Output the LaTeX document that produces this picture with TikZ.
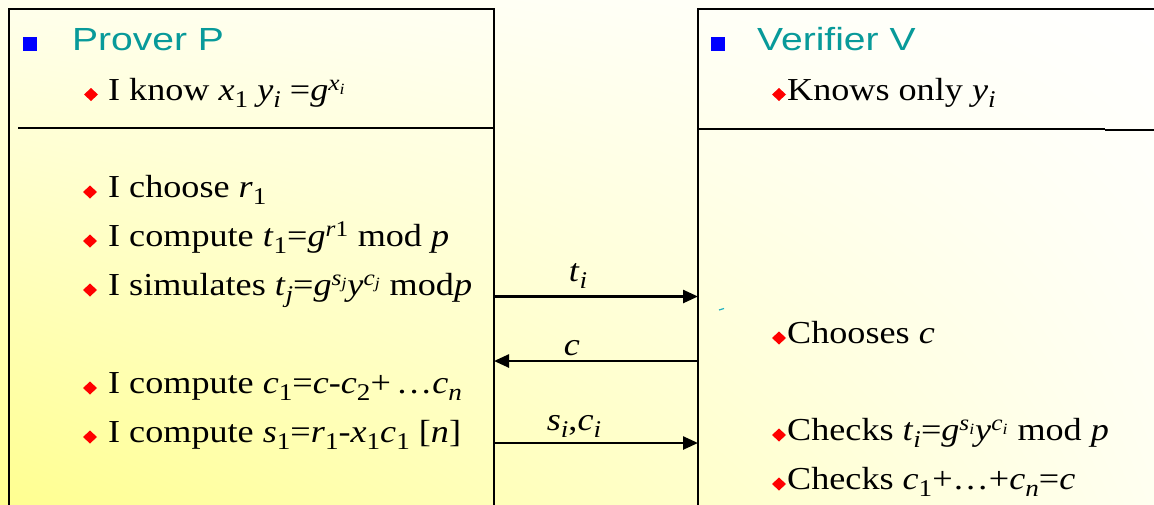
\documentclass[tikz,border=0pt]{standalone}
\usepackage{fontspec}
\setmainfont[FakeStretch=1.13]{Liberation Serif}
\newfontfamily\arialf[FakeStretch=1.22]{Liberation Sans}
\usetikzlibrary{arrows.meta,shadings}
\definecolor{headteal}{HTML}{089A9A}
\definecolor{bulred}{HTML}{FF0000}
\definecolor{bulblue}{HTML}{0000FF}
\definecolor{bgLL}{HTML}{FFFF90}
\definecolor{bgUL}{HTML}{FFFFEC}
\definecolor{bgLR}{HTML}{FFFFF0}
\definecolor{bgUR}{HTML}{FFFFFF}
\definecolor{markteal}{HTML}{20B0C0}
\newcommand\vv[1]{\textit{#1}}
\newcommand\sbs[1]{\raisebox{-7pt}{\fontsize{24}{24}\selectfont #1}}
\newcommand\sps[1]{\textsuperscript{#1}}
\begin{document}
\begin{tikzpicture}[x=1pt,y=-1pt,
  txt/.style={anchor=base west, inner sep=0pt, font=\fontsize{32}{38}\selectfont},
  head/.style={anchor=base west, inner sep=0pt, font=\arialf\fontsize{32}{38}\selectfont, text=headteal},
  lbl/.style={anchor=base, inner sep=0pt, font=\fontsize{32}{38}\selectfont},
  boxline/.style={line width=2.7pt, draw=black},
  msg/.style={line width=2.5pt, -{Triangle[length=15pt,width=13pt]}},
  bul/.pic={\fill[bulred] (-7,0) -- (0,-6.5) -- (7,0) -- (0,6.5) -- cycle;},
  sq/.pic={\fill[bulblue] (-7,-7) rectangle (7,7);}
]
\useasboundingbox (0,0) rectangle (1154,504);
\clip (0,0) rectangle (1154,504);
\shade[upper left=bgUL, upper right=bgUR, lower left=bgLL, lower right=bgLR] (0,0) rectangle (1154,504);

% boxes
\draw[boxline] (9,520) -- (9,9) -- (494,9) -- (494,520);
\draw[boxline] (18,128) -- (494,128);
\draw[boxline] (698,520) -- (698,9) -- (1170,9);
\draw[boxline] (698,129) -- (1105,129);
\draw[boxline] (1105,130) -- (1170,130);

% Prover
\pic at (30,44) {sq};
\node[head] (ph) at (72,50) {Prover P};
\pic at (91,94.5) {bul};
\node[txt] (p0) at (108,100) {I know \vv{x}\sbs{1} \vv{y}\sbs{\vv{i}} =\vv{g}\sps{\vv{x}\textsubscript{\vv{i}}}};

\pic at (90,192) {bul};
\node[txt] (p1) at (108,197) {I choose \vv{r}\sbs{1}};
\pic at (90,241) {bul};
\node[txt] (p2) at (108,246) {I compute \vv{t}\sbs{1}=\vv{g}\sps{\vv{r}1} mod \vv{p}};
\pic at (90,290) {bul};
\node[txt] (p3) at (108,295) {I simulates \vv{t}\sbs{\vv{j}}=\vv{g}\sps{\vv{s}\textsubscript{\vv{j}}}\vv{y}\sps{\vv{c}\textsubscript{\vv{j}}} mod\vv{p}};
\pic at (90,388) {bul};
\node[txt] (p4) at (108,393) {I compute \vv{c}\sbs{1}=\vv{c}-\vv{c}\sbs{2}+\,\dots\vv{c}\sbs{\vv{n}}};
\pic at (90,437) {bul};
\node[txt] (p5) at (108,442) {I compute \vv{s}\sbs{1}=\vv{r}\sbs{1}-\vv{x}\sbs{1}\vv{c}\sbs{1} [\vv{n}]};

% Verifier
\pic at (717.5,44) {sq};
\node[head] (vh) at (757,50) {Verifier V};
\pic at (779,94.5) {bul};
\node[txt] (v0) at (787,100) {Knows only \vv{y}\sbs{\vv{i}}};
\pic at (779,338) {bul};
\node[txt] (v1) at (787,343) {Chooses \vv{c}};
\pic at (779,435) {bul};
\node[txt] (v2) at (787,440) {Checks \vv{t}\sbs{\vv{i}}=\vv{g}\sps{\vv{s}\textsubscript{\vv{i}}}\vv{y}\sps{\vv{c}\textsubscript{\vv{i}}} mod \vv{p}};
\pic at (779,484) {bul};
\node[txt] (v3) at (787,489) {Checks \vv{c}\sbs{1}+\dots+\vv{c}\sbs{\vv{n}}=\vv{c}};

% messages
\coordinate (pt) at (494,296.5);
\coordinate (vt) at (698,296.5);
\coordinate (pc) at (494,361);
\coordinate (vc) at (698,361);
\coordinate (ps) at (494,443);
\coordinate (vs) at (698,443);
\draw[msg] (pt) -- (vt);
\draw[msg] (vc) -- (pc);
\draw[msg] (ps) -- (vs);
\node[lbl] (lt) at (578,281) {\vv{t}\sbs{\vv{i}}};
\node[lbl] (lc) at (572,355) {\vv{c}};
\node[lbl] (ls) at (574,430) {\vv{s}\sbs{\vv{i}},\vv{c}\sbs{\vv{i}}};

% stray mark
\draw[markteal, line width=1.2pt] (719,310) -- (724,308.5);
\end{tikzpicture}
\end{document}
